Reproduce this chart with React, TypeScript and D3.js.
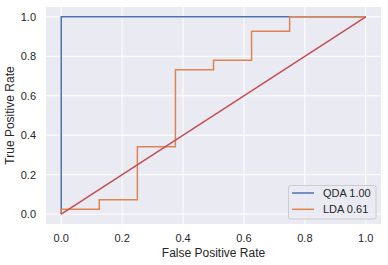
import React from "react";
import * as d3 from "d3";

// ROC data
const ldaFpr = [0, 0, 0.125, 0.125, 0.25, 0.25, 0.375, 0.375, 0.5, 0.5, 0.625, 0.625, 0.75, 0.75, 1];
const ldaTpr = [0, 1 / 41, 1 / 41, 3 / 41, 3 / 41, 14 / 41, 14 / 41, 30 / 41, 30 / 41, 32 / 41, 32 / 41, 38 / 41, 38 / 41, 1, 1];
const qdaFpr = [0, 0, 1];
const qdaTpr = [0, 1, 1];
const diagFpr = [0, 1];
const diagTpr = [0, 1];
const ticks = [0, 0.2, 0.4, 0.6, 0.8, 1.0];
const legendLabels = ["QDA 1.00", "LDA 0.61"];

const W = 388, H = 265;
const left = 46, right = 381, top = 7, bottom = 224;
const font = "'Liberation Sans', Arial, sans-serif";
const txt = "#262626";

export default function App() {
  const x = d3.scaleLinear().domain([-0.05, 1.05]).range([left, right]);
  const y = d3.scaleLinear().domain([-0.05, 1.05]).range([bottom, top]);

  const line = (xs: number[], ys: number[]) =>
    d3.line<number>().x((d, i) => x(xs[i])).y((d, i) => y(ys[i]))(xs) || "";

  const series = [
    { name: legendLabels[0], color: "#4c72b0", xs: qdaFpr, ys: qdaTpr },
    { name: legendLabels[1], color: "#dd8452", xs: ldaFpr, ys: ldaTpr },
  ];

  return (
    <svg width={W} height={H} style={{ position: "absolute", left: 0, top: 0 }}>
      <rect x={left} y={top} width={right - left} height={bottom - top} fill="#eaeaf2" />
      {ticks.map(t => (
        <g key={"g" + t}>
          <line x1={x(t)} x2={x(t)} y1={top} y2={bottom} stroke="#fff" strokeWidth={1} />
          <line x1={left} x2={right} y1={y(t)} y2={y(t)} stroke="#fff" strokeWidth={1} />
          <text x={x(t)} y={242} textAnchor="middle" fontFamily={font} fontSize={11} fill={txt}>
            {t.toFixed(1)}
          </text>
          <text x={36} y={y(t) + 4} textAnchor="end" fontFamily={font} fontSize={11} fill={txt}>
            {t.toFixed(1)}
          </text>
        </g>
      ))}
      {series.map(s => (
        <path key={s.name} d={line(s.xs, s.ys)} fill="none" stroke={s.color} strokeWidth={1.5} />
      ))}
      <path d={line(diagFpr, diagTpr)} fill="none" stroke="#c44e52" strokeWidth={1.5} />
      <text x={(left + right) / 2} y={257} textAnchor="middle" fontFamily={font} fontSize={12} fill={txt}>
        False Positive Rate
      </text>
      <text transform={`translate(14,${(top + bottom) / 2}) rotate(-90)`} textAnchor="middle"
        fontFamily={font} fontSize={12} fill={txt}>
        True Positive Rate
      </text>
      <g>
        <rect x={288.5} y={185.5} width={87.5} height={33.5} rx={2} fill="#eaeaf2" fillOpacity={0.8} stroke="#cccccc" strokeWidth={1} />
        {series.map((s, i) => (
          <g key={"l" + s.name}>
            <line x1={292} x2={314} y1={193 + i * 16.3} y2={193 + i * 16.3} stroke={s.color} strokeWidth={1.5} />
            <text x={323} y={197 + i * 16.3} fontFamily={font} fontSize={11} fill={txt}>{s.name}</text>
          </g>
        ))}
      </g>
    </svg>
  );
}
